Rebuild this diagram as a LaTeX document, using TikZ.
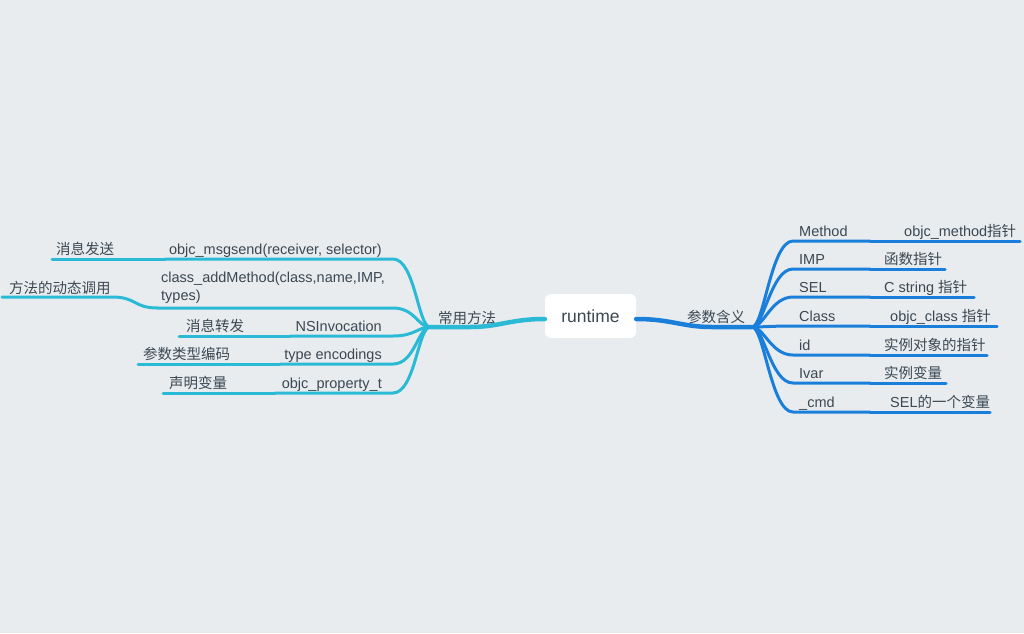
\documentclass[tikz,border=0pt]{standalone}
\usepackage{fontspec}
\setmainfont{Liberation Sans}
\newfontfamily\cjk{Noto Sans CJK SC}
\definecolor{bgc}{HTML}{E8ECEF}
\definecolor{txt}{HTML}{3B4852}
\definecolor{cyanb}{HTML}{2BBAD6}
\definecolor{blueb}{HTML}{1A7FDB}
\begin{document}
\begin{tikzpicture}[x=1pt,y=-1pt,
  lbl/.style={inner sep=0pt, font=\fontsize{14.5}{18}\selectfont, text=txt},
  lw/.style={lbl, anchor=base west},
  le/.style={lbl, anchor=base east},
  rootbox/.style={fill=white, rounded corners=6pt, minimum width=91pt, minimum height=44pt,
    inner sep=0pt, font=\fontsize{17.5}{20}\selectfont, text=txt},
  mainL/.style={draw=cyanb, line width=4.5pt, line cap=round},
  mainR/.style={draw=blueb, line width=4.5pt, line cap=round},
  subL/.style={draw=cyanb, line width=3pt, line cap=round},
  subR/.style={draw=blueb, line width=3pt, line cap=round}]
\fill[bgc] (0,0) rectangle (1024,633);
\useasboundingbox (0,0) rectangle (1024,633);

% central topic
\node[rootbox] (root) at (590.5,316) {runtime};

% branch junctions
\coordinate (jl) at (430,327);
\coordinate (jr) at (752,327);
\coordinate (ml) at (470,327);
\coordinate (mr) at (712,327);

\node[lw] (common) at (438,323) {\cjk 常用方法};
\node[lw] (params) at (687,322) {\cjk 参数含义};

\draw[mainL] ([yshift=-3pt]root.west) .. controls +(-35,0) and +(30,0) .. (ml) -- (jl);
\draw[mainR] ([yshift=-3pt]root.east) .. controls +(35,0) and +(-30,0) .. (mr) -- (jr);

% ---------- left branch: common methods ----------
\coordinate (a1) at (393,259); \coordinate (b1) at (165,259); \coordinate (g1) at (52,259);
\coordinate (a2) at (393,308); \coordinate (b2) at (158,308);
\coordinate (k2) at (112,297); \coordinate (g2) at (2,297);
\coordinate (a3) at (393,336); \coordinate (b3) at (290,336); \coordinate (g3) at (179,336);
\coordinate (a4) at (393,364); \coordinate (b4) at (280,364); \coordinate (g4) at (138,364);
\coordinate (a5) at (393,393); \coordinate (b5) at (275,393); \coordinate (g5) at (163,393);

\node[le] (msgsend) at (382,254) {objc\_msgsend(receiver, selector)};
\node[lw] (msgsendg) at (56,254) {\cjk 消息发送};
\node[lbl, anchor=south west, align=left] (addm) at (161,304)
  {class\_addMethod(class,name,IMP,\\types)};
\node[lw] (addmg) at (9,293) {\cjk 方法的动态调用};
\node[le] (nsinv) at (382,331) {NSInvocation};
\node[lw] (nsinvg) at (186,331) {\cjk 消息转发};
\node[le] (typeenc) at (382,359) {type encodings};
\node[lw] (typeencg) at (143,359) {\cjk 参数类型编码};
\node[le] (propt) at (382,388) {objc\_property\_t};
\node[lw] (proptg) at (169,388) {\cjk 声明变量};

\foreach \i in {1,...,5}{
  \draw[subL] (jl) .. controls +(-12,0) and +(22,0) .. (a\i) -- (b\i);
}
\draw[subL] (b1) -- (g1);
\draw[subL] (b2) .. controls +(-25,0) and +(25,0) .. (k2) -- (g2);
\draw[subL] (b3) -- (g3);
\draw[subL] (b4) -- (g4);
\draw[subL] (b5) -- (g5);

% ---------- right branch: parameter meanings ----------
\foreach \i/\y/\e in {1/241/1020, 2/269/945, 3/297/974, 4/326/997, 5/355/987, 6/383/946, 7/412/990}{
  \coordinate (s\i) at (793,\y);
  \coordinate (m\i) at (870,\y);
  \coordinate (e\i) at (\e,\y);
}
\node[lw] (method) at (799,236) {Method};
\node[lw] (methodg) at (904,236) {objc\_method{\cjk 指针}};
\node[lw] (imp) at (799,264) {IMP};
\node[lw] (impg) at (884,264) {\cjk 函数指针};
\node[lw] (sel) at (799,292) {SEL};
\node[lw] (selg) at (884,292) {C string {\cjk 指针}};
\node[lw] (cls) at (799,321) {Class};
\node[lw] (clsg) at (890,321) {objc\_class {\cjk 指针}};
\node[lw] (idn) at (799,350) {id};
\node[lw] (idg) at (884,350) {\cjk 实例对象的指针};
\node[lw] (ivar) at (799,378) {Ivar};
\node[lw] (ivarg) at (884,378) {\cjk 实例变量};
\node[lw] (cmd) at (799,407) {\_cmd};
\node[lw] (cmdg) at (890,407) {SEL{\cjk 的一个变量}};

\foreach \i in {1,...,7}{
  \draw[subR] (jr) .. controls +(12,0) and +(-22,0) .. (s\i) -- (m\i);
  \draw[subR] (m\i) -- (e\i);
}
\end{tikzpicture}
\end{document}
